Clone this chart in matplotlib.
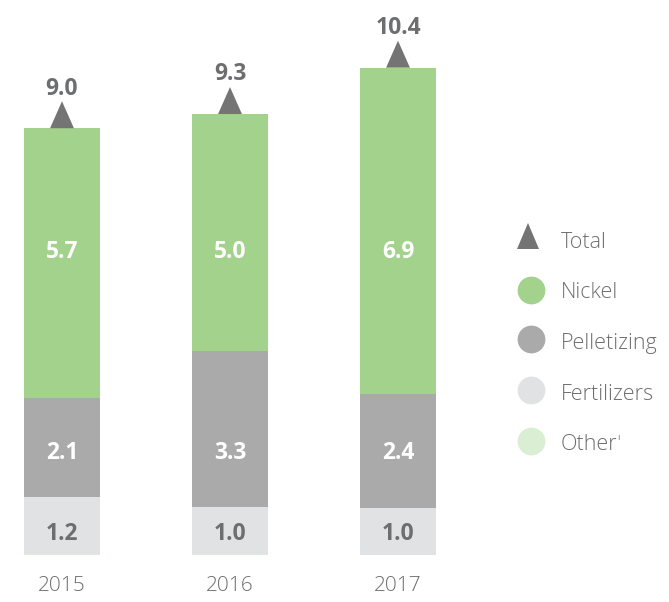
import matplotlib.pyplot as plt
from matplotlib.patches import Polygon
from matplotlib.lines import Line2D
import numpy as np

# Données
years = ["2015", "2016", "2017"]
other = [0.02, 0.02, 0.0]
fertilizers = [1.2, 1.0, 1.0]
pelletizing = [2.1, 3.3, 2.4]
nickel = [5.7, 5.0, 6.9]
totals = [9.0, 9.3, 10.4]

legend_labels = ["Total", "Nickel", "Pelletizing", "Fertilizers", "Other"]

c_nickel = "#a3d28c"
c_pellet = "#aaaaab"
c_fert = "#e1e2e4"
c_other = "#d9eed3"
c_tri = "#747474"
c_text = "#6d6e70"

plt.rcParams['font.family'] = ['Open Sans', 'DejaVu Sans']

fig = plt.figure(figsize=(6.69, 6.02), dpi=100)
ax = fig.add_axes([0, 0, 1, 1])
ax.set_xlim(-0.369, 3.613)
ax.set_ylim(-0.994, 11.73)
ax.axis('off')

x = np.arange(len(years))
w = 0.458
b1 = np.array(other)
b2 = b1 + fertilizers
b3 = b2 + pelletizing
ax.bar(x, other, w, color=c_other)
ax.bar(x, fertilizers, w, bottom=b1, color=c_fert)
ax.bar(x, pelletizing, w, bottom=b2, color=c_pellet)
ax.bar(x, nickel, w, bottom=b3, color=c_nickel)
tops = b3 + nickel

# hauteurs des étiquettes (lignes de base fixes, comme dans l'original)
y_fert, y_pellet, y_nickel = 0.32, 2.03, 6.28

for i in range(len(years)):
    ax.text(x[i], y_fert, f"{fertilizers[i]:.1f}", ha='center', va='baseline',
            fontsize=16.5, fontweight='bold', color=c_text)
    ax.text(x[i], y_pellet, f"{pelletizing[i]:.1f}", ha='center', va='baseline',
            fontsize=16.5, fontweight='bold', color='white')
    ax.text(x[i], y_nickel, f"{nickel[i]:.1f}", ha='center', va='baseline',
            fontsize=16.5, fontweight='bold', color='white')
    # triangle du total
    tri = Polygon([[x[i] - 0.071, tops[i]], [x[i] + 0.071, tops[i]], [x[i], tops[i] + 0.57]],
                  closed=True, color=c_tri, lw=0)
    ax.add_patch(tri)
    ax.text(x[i], tops[i] + 0.71, f"{totals[i]:.1f}", ha='center', va='baseline',
            fontsize=16.5, fontweight='bold', color=c_text)
    ax.text(x[i], -0.76, years[i], ha='center', va='baseline', fontsize=15,
            fontweight='light', color=c_text)

# Légende
H = 602.0
W = 669.0
leg_colors = [c_tri, c_nickel, c_pellet, c_fert, c_other]
mark_y = [236, 290, 339, 390, 441]
text_y = [248, 298, 349, 400, 450]
for lab, col, my, ty in zip(legend_labels, leg_colors, mark_y, text_y):
    if lab == "Total":
        fig.patches.append(Polygon([[517 / W, 1 - 249 / H], [539 / W, 1 - 249 / H], [528 / W, 1 - 223 / H]],
                                   closed=True, color=col, lw=0, transform=fig.transFigure))
    else:
        fig.lines.append(Line2D([531 / W], [1 - my / H], marker='o', markersize=20, color=col,
                                markeredgewidth=0, linestyle='none', transform=fig.transFigure))
    fig.text(561 / W, 1 - ty / H, lab, ha='left', va='baseline', fontsize=15.5,
             fontweight='light', color=c_text)
fig.text(617 / W, 1 - 440 / H, "I", fontsize=6, color=c_text, ha='left', va='baseline')

plt.savefig("out.png", dpi=100)
